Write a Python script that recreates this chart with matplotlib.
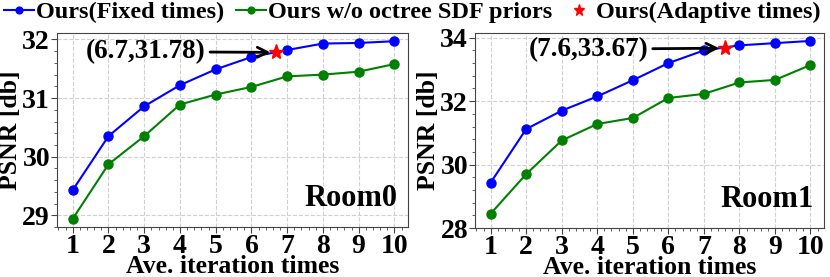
import numpy as np
import matplotlib
matplotlib.use('Agg')
import matplotlib.pyplot as plt
from matplotlib.ticker import MultipleLocator

plt.rcParams['font.family'] = ['Liberation Serif', 'DejaVu Serif']
plt.rcParams['font.weight'] = 'bold'

# данные
iters = [1, 2, 3, 4, 5, 6, 7, 8, 9, 10]

room0_fixed = [29.43, 30.35, 30.86, 31.22, 31.49, 31.70, 31.82, 31.93, 31.94, 31.97]
room0_noprior = [28.94, 29.87, 30.35, 30.89, 31.06, 31.19, 31.37, 31.40, 31.45, 31.58]
room0_adapt = (6.7, 31.78)

room1_fixed = [29.43, 31.12, 31.70, 32.15, 32.66, 33.20, 33.60, 33.76, 33.83, 33.90]
room1_noprior = [28.45, 29.70, 30.76, 31.28, 31.47, 32.10, 32.23, 32.59, 32.67, 33.14]
room1_adapt = (7.6, 33.67)

labels = ['Ours(Fixed times)', 'Ours w/o octree SDF priors', 'Ours(Adaptive times)']

fig = plt.figure(figsize=(8.3, 2.77), dpi=100)
ax1 = fig.add_axes([57 / 830, 1 - 227 / 277, 351 / 830, 194 / 277])
ax2 = fig.add_axes([475 / 830, 1 - 228 / 277, 349 / 830, 195 / 277])

# (оси, данные, подпись комнаты, пределы по y, шаги тиков, позиция текста аннотации)
panels = [
    (ax1, room0_fixed, room0_noprior, room0_adapt, 'Room0', (28.8, 32.11), 1, 0.2, (3.05, 31.79)),
    (ax2, room1_fixed, room1_noprior, room1_adapt, 'Room1', (28.0, 34.15), 2, 0.4, (3.76, 33.64)),
]

for ax, fixed, noprior, adapt, name, ylim, ymaj, ymin, txt_pos in panels:
    l1, = ax.plot(iters, fixed, '-o', color='blue', lw=1.5, ms=6.5, label=labels[0])
    l2, = ax.plot(iters, noprior, '-o', color='green', lw=1.5, ms=6.5, label=labels[1])
    l3, = ax.plot(adapt[0], adapt[1], '*', color='red', ms=11, label=labels[2], zorder=5)
    ax.annotate('(%s,%s)' % (adapt[0], adapt[1]), xy=(adapt[0] - 0.17, adapt[1]),
                xytext=txt_pos, textcoords='data', fontsize=19.5, fontweight='bold',
                ha='center', va='center',
                arrowprops=dict(arrowstyle='->', color='black', lw=2, mutation_scale=18,
                                shrinkA=1, shrinkB=0))
    ax.text(0.97, 0.07, name, transform=ax.transAxes, ha='right', va='bottom',
            fontsize=22, fontweight='bold')
    ax.set_xlim(0.56, 10.38)
    ax.set_ylim(*ylim)
    ax.xaxis.set_major_locator(MultipleLocator(1))
    ax.xaxis.set_minor_locator(MultipleLocator(0.2))
    ax.yaxis.set_major_locator(MultipleLocator(ymaj))
    ax.yaxis.set_minor_locator(MultipleLocator(ymin))
    ax.grid(True, which='major', ls='--', color='#d0d0d0', lw=0.8)
    ax.tick_params(axis='both', which='major', labelsize=20, length=4, color='#444444', pad=1)
    ax.tick_params(axis='both', which='minor', length=2, color='#444444')
    for s in ax.spines.values():
        s.set_color('#444444')
    for lab in ax.get_xticklabels() + ax.get_yticklabels():
        lab.set_fontweight('bold')
    ax.set_xlabel('Ave. iteration times', fontsize=18.5, fontweight='bold', labelpad=-3)
    ax.set_ylabel('PSNR [db]', fontsize=18.5, fontweight='bold', labelpad=0)

fig.legend(handles=[l1, l2, l3], labels=labels, loc='upper center', bbox_to_anchor=(0.497, 1.04),
           ncol=3, frameon=False, fontsize=17.5, handlelength=1.2, handletextpad=0.1,
           columnspacing=0.5, borderaxespad=0.1, markerscale=0.75)

fig.savefig('out.png', dpi=100)
